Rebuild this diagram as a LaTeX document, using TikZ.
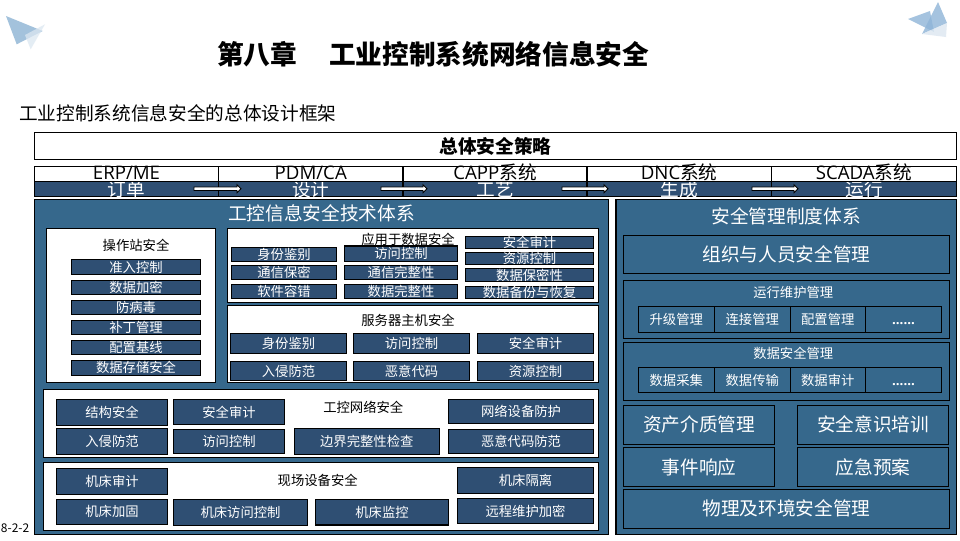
\documentclass[tikz,border=0pt]{standalone}
\usepackage{fontspec}
\setmainfont{Noto Sans CJK SC}
\newfontfamily\latfont{Open Sans}
\definecolor{darkbox}{HTML}{2F4F73}
\definecolor{panel}{HTML}{36688C}
\definecolor{triA}{HTML}{A3C2DC}
\definecolor{triB}{HTML}{DCE7F1}
\definecolor{triC}{HTML}{8FB5D8}
\newcommand\fsS{\fontsize{10}{12}\selectfont}
\newcommand\fsM{\fontsize{14}{16}\selectfont}
\newcommand\fsT{\fontsize{20}{24}\selectfont}
\newcommand\lat[1]{{\latfont #1}}
\newcommand\dotsrow{{\latfont\bfseries ......}}
\newcommand\nudge[2]{\raisebox{#1}{#2}}
\tikzset{
 x=0.75pt,y=-0.75pt,
 base/.style={draw=black,line width=0.9pt,inner sep=0pt,outer sep=0pt,anchor=center,text=white},
 dark/.style={base,fill=darkbox,font=\fsS},
 darkm/.style={base,fill=darkbox,font=\fsM},
 pan/.style={base,fill=panel,font=\fsM},
 pans/.style={base,fill=panel,font=\fsS},
 whitebox/.style={base,fill=white,text=black},
 strat/.style={whitebox,font=\fsM\bfseries},
 syscell/.style={base,fill=white,text=black,font=\fsM},
 lab/.style={inner sep=0pt,outer sep=0pt,text=black,font=\fsS},
 flowarrow/.style={draw=black,line width=0.6pt,fill=white,line join=miter},
}
\newcommand\bx[7][dark]{\node[#1,minimum width={(#5-#3)*0.75pt},minimum height={(#6-#4)*0.75pt}] (#2) at ({(#3+#5)/2},{(#4+#6)/2}) {\raisebox{-.38em}[0pt][0pt]{#7}};}
% block arrow between two x positions on the process row
\newcommand\flowarr[3]{%
 \coordinate (#1s) at (#2,188.7);\coordinate (#1e) at (#3,188.7);
 \draw[flowarrow] (#1s) ++(0,-1.7) -- ++({#3-#2-4},0) -- ++(0,-2.3) -- (#1e) -- ++(-4,4) -- ++(0,-2.3) -- ++({4-#3+#2},0) -- cycle;}
\begin{document}
\begin{tikzpicture}
\useasboundingbox (0,0) rectangle (960,540);
\fill[white] (0,0) rectangle (960,540);
% decorations
\fill[triA] (6,16) -- (42.7,31) -- (16.7,44.3) -- cycle;
\fill[triB,opacity=.75] (45,24.3) -- (25,35) -- (30.7,49.3) -- cycle;
\fill[triC,opacity=.8] (908,19) -- (930,11) -- (934,32) -- cycle;
\fill[triC,opacity=.8] (938,2) -- (947,23) -- (922,34) -- cycle;
\fill[triB,opacity=.8] (947,23) -- (946,37) -- (922,34) -- cycle;
% titles
\node[lab,font=\fsT\bfseries] (title) at (433,54) {第八章\hspace{24pt}工业控制系统网络信息安全};
\node[lab,font=\fsM,anchor=west] (sub) at (19,113) {工业控制系统信息安全的总体设计框架};
\node[lab,font={\fontsize{9}{10}\selectfont},anchor=west] (page) at (1,528) {8-2-2};
% strategy
\bx[strat]{strategy}{34.5}{132.5}{956.5}{159.5}{总体安全策略}
% process row first, so that the system names stay whole
\bx[darkm]{p1}{34.5}{181.5}{218.5}{196.5}{订单}
\bx[darkm]{p2}{218.5}{181.5}{403}{196.5}{设计}
\bx[darkm]{p3}{403}{181.5}{587}{196.5}{工艺}
\bx[darkm]{p4}{587}{181.5}{771.5}{196.5}{生成}
\bx[darkm]{p5}{771.5}{181.5}{956.5}{196.5}{运行}
% systems
\bx[syscell]{s1}{34.5}{166.5}{218.5}{181.5}{\nudge{1.1pt}{\lat{ERP/ME}}}
\bx[syscell]{s2}{218.5}{166.5}{403}{181.5}{\nudge{1.1pt}{\lat{PDM/CA}}}
\bx[syscell]{s3}{403}{166.5}{587}{181.5}{\nudge{1.1pt}{\lat{CAPP}系统}}
\bx[syscell]{s4}{587}{166.5}{771.5}{181.5}{\nudge{1.1pt}{\lat{DNC}系统}}
\bx[syscell]{s5}{771.5}{166.5}{956.5}{181.5}{\nudge{1.1pt}{\lat{SCADA}系统}}
\flowarr{a1}{194}{241}
\flowarr{a2}{381}{427}
\flowarr{a3}{562}{608}
\flowarr{a4}{752}{798}
% left panel
\bx[pan]{leftp}{34.5}{199.5}{608.5}{534.5}{}
\node[lab,text=white,font=\fsM] (leftt) at (321.5,213) {工控信息安全技术体系};
\bx[whitebox]{opbox}{46.3}{228.3}{215.3}{382.3}{}
\node[lab] (opt) at (136,245) {操作站安全};
\bx{op1}{71.3}{259.3}{200.7}{274.7}{准入控制}
\bx{op2}{71.3}{280.3}{200.7}{294.3}{数据加密}
\bx{op3}{71.3}{300.3}{200.7}{314.3}{防病毒}
\bx{op4}{71.3}{320.3}{200.7}{334.3}{补丁管理}
\bx{op5}{71.3}{340.3}{200.7}{354.3}{配置基线}
\bx{op6}{71.3}{360.3}{200.7}{375.3}{数据存储安全}
\bx[whitebox]{appbox}{227.3}{228.3}{598.3}{302.3}{}
\node[lab] (appt) at (408,239) {应用于数据安全};
\bx{ap1}{231.3}{247.3}{336.7}{261.3}{身份鉴别}
\bx{ap2}{231.3}{265.3}{336.7}{279.3}{通信保密}
\bx{ap3}{231.3}{284.3}{336.7}{298.7}{软件容错}
\bx{ap4}{344.3}{246}{457.7}{261.3}{访问控制}
\bx{ap5}{344.3}{265.3}{457.7}{279.3}{通信完整性}
\bx{ap6}{344.3}{284.3}{457.7}{298.7}{数据完整性}
\bx{ap7}{465.3}{236.3}{593.7}{248.3}{安全审计}
\bx{ap8}{465.3}{252.3}{593.7}{264.3}{资源控制}
\bx{ap9}{465.3}{268.3}{593.7}{281.7}{数据保密性}
\bx{ap10}{465.3}{286.3}{593.7}{298.7}{数据备份与恢复}
\bx[whitebox]{srvbox}{227.3}{305.7}{598.3}{382.3}{}
\node[lab] (srvt) at (408,320) {服务器主机安全};
\bx{sv1}{230.3}{333.3}{346.7}{353.7}{身份鉴别}
\bx{sv2}{353.3}{333.3}{469.7}{353.7}{访问控制}
\bx{sv3}{477.3}{333.3}{593.7}{353.7}{安全审计}
\bx{sv4}{230.3}{361.3}{346.7}{380.7}{入侵防范}
\bx{sv5}{353.3}{361.3}{469.7}{380.7}{恶意代码}
\bx{sv6}{477.3}{361.3}{593.7}{380.7}{资源控制}
\bx[whitebox]{netbox}{43.3}{389.3}{598.3}{457.3}{}
\node[lab] (nett) at (363.3,407.3) {工控网络安全};
\bx{nt1}{56.3}{399.3}{167.7}{425.3}{结构安全}
\bx{nt2}{173.3}{399.3}{284.7}{424.7}{安全审计}
\bx{nt3}{448.3}{399.3}{593.7}{423.7}{网络设备防护}
\bx{nt4}{56.3}{428.3}{167.7}{454.7}{入侵防范}
\bx{nt5}{173.3}{429.3}{284.7}{453.7}{访问控制}
\bx{nt6}{294.3}{428.3}{439.3}{454.7}{边界完整性检查}
\bx{nt7}{448.3}{429.3}{593.7}{453.7}{恶意代码防范}
\bx[whitebox]{fldbox}{43.3}{462.7}{598.3}{530.3}{}
\node[lab] (fldt) at (317.7,480.7) {现场设备安全};
\bx{fd1}{56.3}{468.3}{167.7}{494.3}{机床审计}
\bx{fd2}{457.3}{467.3}{593.7}{493.3}{机床隔离}
\bx{fd3}{56.3}{499.3}{167.7}{524.7}{\nudge{0.75pt}{机床加固}}
\bx{fd4}{173.3}{499.3}{307.7}{525.3}{机床访问控制}
\bx{fd5}{315.3}{499.3}{448.7}{525}{机床监控}
\bx{fd6}{457.3}{498.3}{593.7}{523.7}{远程维护加密}
% right panel
\bx[pan]{rightp}{616}{199.5}{956.7}{534.3}{}
\node[lab,text=white,font=\fsM] (rightt) at (786,216) {安全管理制度体系};
\bx[pan]{org}{623.3}{235.7}{949.7}{273.3}{组织与人员安全管理}
\bx[pan]{opsb}{623.3}{280.7}{949.7}{338.3}{}
\node[lab,text=white] (opst) at (793.3,292) {运行维护管理};
\bx[pans]{m1}{638.3}{306.7}{714.3}{332.3}{升级管理}
\bx[pans]{m2}{714.3}{306.7}{790.3}{332.3}{连接管理}
\bx[pans]{m3}{790.3}{306.7}{865.3}{332.3}{配置管理}
\bx[pans]{m4}{865.3}{306.7}{941.7}{332.3}{\dotsrow}
\bx[pan]{dsb}{623.3}{342.7}{949.7}{400.3}{}
\node[lab,text=white] (dst) at (793.3,353) {数据安全管理};
\bx[pans]{d1}{638.3}{367.7}{714.3}{392.3}{数据采集}
\bx[pans]{d2}{714.3}{367.7}{790.3}{392.3}{数据传输}
\bx[pans]{d3}{790.3}{367.7}{865.3}{392.3}{数据审计}
\bx[pans]{d4}{865.3}{367.7}{941.7}{392.3}{\dotsrow}
\bx[pan]{r1}{623.3}{405.3}{774.7}{444.3}{资产介质管理}
\bx[pan]{r2}{797.3}{405.3}{948.7}{444.3}{安全意识培训}
\bx[pan]{r3}{623.3}{447.3}{774.7}{486.7}{事件响应}
\bx[pan]{r4}{797.3}{447.3}{948.7}{486.7}{应急预案}
\bx[pan]{r5}{623.3}{489.3}{949.7}{528.3}{物理及环境安全管理}
\end{tikzpicture}
\end{document}
